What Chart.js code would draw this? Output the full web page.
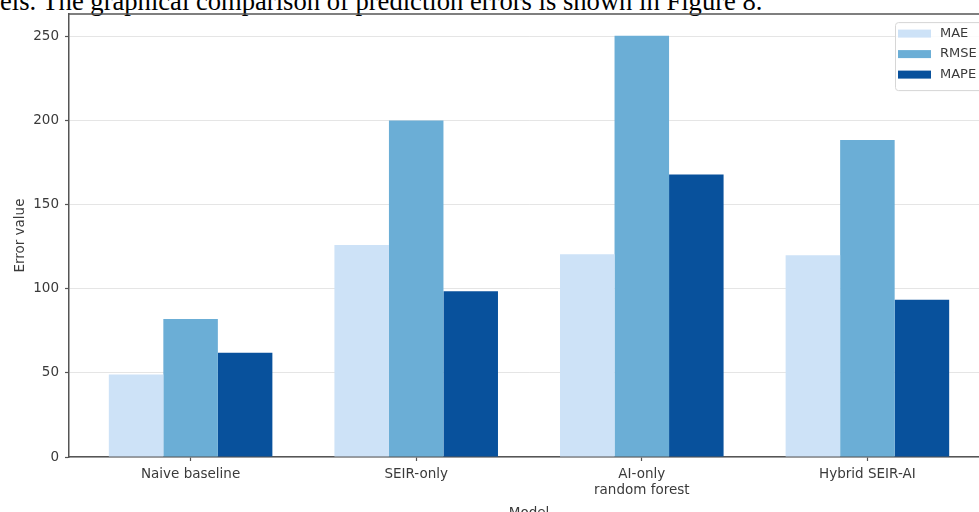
<!DOCTYPE html>
<html>
<head>
<meta charset="utf-8">
<script src="https://cdn.jsdelivr.net/npm/chart.js@4/dist/chart.umd.min.js"></script>
<style>
  html, body { margin: 0; padding: 0; width: 979px; height: 512px; overflow: hidden; background: #fff; }
  #caption {
    position: absolute; left: 0; top: -12px; white-space: nowrap;
    font-family: "Liberation Serif", "Times New Roman", serif; font-size: 26.6px; line-height: 26.6px; color: #000;
  }
  #wrap { position: absolute; left: 0; top: 0; width: 995px; height: 525px; }
</style>
</head>
<body>
<div id="caption">els. The graphical comparison of prediction errors is shown in Figure 8.</div>
<div id="wrap"><canvas id="chart" width="995" height="525"></canvas></div>
<script>
// Models compared (tick labels; "\n" splits a label over two lines)
const categories = ['Naive baseline', 'SEIR-only', 'AI-only\nrandom forest', 'Hybrid SEIR-AI'];
const seriesNames = ['MAE', 'RMSE', 'MAPE'];
const maeValues  = [49, 126, 120.5, 120];
const rmseValues = [82, 200, 250.5, 188.5];
const mapeValues = [62, 98.5, 168, 93.5];
const yTicks = [0, 50, 100, 150, 200, 250];

const seriesColors = ['#cde2f7', '#6baed6', '#08519c'];
const seriesValues = [maeValues, rmseValues, mapeValues];

const FONT = '"DejaVu Sans", sans-serif';
const AXIS = '#555555';
const TEXT = '#3a3a3a';

const datasets = seriesNames.map((name, s) => ({
  label: name,
  data: seriesValues[s].map((v, i) => ({ x: i, y: v })),
  backgroundColor: seriesColors[s],
  borderWidth: 0,
  barPercentage: 1,
  categoryPercentage: 0.725
}));

// Top spine of the plot frame
const frameTop = {
  id: 'frameTop',
  afterDraw(chart) {
    const { ctx, chartArea: a } = chart;
    ctx.save();
    ctx.strokeStyle = AXIS;
    ctx.lineWidth = 1.5;
    ctx.beginPath();
    ctx.moveTo(a.left, a.top);
    ctx.lineTo(a.right, a.top);
    ctx.stroke();
    ctx.restore();
  }
};

// Boxed legend in the upper-right corner of the plot area
const innerLegend = {
  id: 'innerLegend',
  afterDraw(chart) {
    const { ctx, chartArea: a } = chart;
    const boxL = a.right - 94, boxT = a.top + 8, boxW = 120, boxH = 68;
    ctx.save();
    ctx.fillStyle = 'rgba(255,255,255,0.85)';
    ctx.strokeStyle = '#d6d6d6';
    ctx.lineWidth = 1;
    ctx.beginPath();
    ctx.roundRect(boxL + 0.5, boxT + 0.5, boxW, boxH, 3);
    ctx.fill();
    ctx.stroke();
    ctx.font = '13px ' + FONT;
    ctx.textBaseline = 'middle';
    chart.data.datasets.forEach((ds, i) => {
      const cy = boxT + 11.5 + i * 20.5;
      ctx.fillStyle = ds.backgroundColor;
      ctx.fillRect(boxL + 3, cy - 4, 33, 8);
      ctx.fillStyle = TEXT;
      ctx.fillText(ds.label, boxL + 45, cy);
    });
    ctx.restore();
  }
};

new Chart(document.getElementById('chart'), {
  type: 'bar',
  data: { datasets },
  plugins: [frameTop, innerLegend],
  options: {
    responsive: false,
    animation: false,
    devicePixelRatio: 1,
    layout: { padding: { left: 0, top: 14, right: 6, bottom: 0 } },
    plugins: { legend: { display: false }, tooltip: { enabled: false } },
    scales: {
      x: {
        type: 'linear',
        offset: false,
        min: -0.539,
        max: 3.539,
        afterBuildTicks: (s) => { s.ticks = categories.map((_, i) => ({ value: i })); },
        afterFit: (s) => { s.height = 68; },
        ticks: {
          autoSkip: false, maxRotation: 0, padding: 5,
          color: TEXT, font: { family: FONT, size: 13.5 },
          callback: (v) => categories[v] !== undefined ? categories[v].split('\n') : ''
        },
        grid: { offset: false, drawOnChartArea: false, drawTicks: true, tickLength: 4, tickColor: AXIS, tickWidth: 1.2 },
        border: { color: AXIS, width: 1.5 },
        title: { display: true, text: 'Model', color: TEXT, font: { family: FONT, size: 13.5 }, padding: { top: 0, bottom: 3 } }
      },
      y: {
        min: 0,
        max: 263.3,
        z: 1,
        afterBuildTicks: (s) => { s.ticks = yTicks.map(v => ({ value: v })); },
        afterFit: (s) => { s.width = 69; },
        ticks: { padding: 6, color: TEXT, font: { family: FONT, size: 13.5 } },
        grid: { color: 'rgba(170,170,170,0.3)', lineWidth: 1, drawTicks: true, tickLength: 4, tickColor: AXIS, tickWidth: 1.2 },
        border: { color: AXIS, width: 1.5 },
        title: { display: true, text: 'Error value', color: TEXT, font: { family: FONT, size: 13.5 }, padding: { top: 12, bottom: 0 } }
      }
    }
  }
});
</script>
</body>
</html>
